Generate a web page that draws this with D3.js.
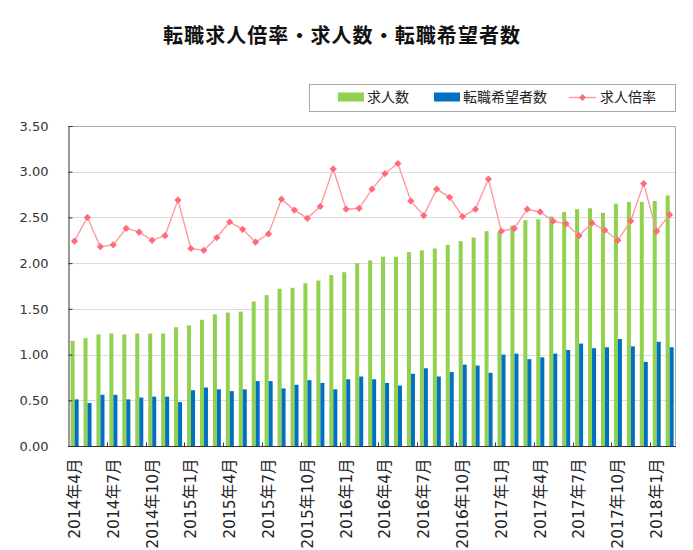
<!DOCTYPE html>
<html>
<head>
<meta charset="utf-8">
<script src="https://cdn.jsdelivr.net/npm/d3@7"></script>
<style>
  body { margin: 0; background: #fff; }
  svg { display: block; font-family: "DejaVu Sans", "Noto Sans CJK JP", sans-serif; }
</style>
</head>
<body>
<svg width="693" height="550"></svg>
<script>
const months = [
  "2014年4月", "2014年5月", "2014年6月", "2014年7月", "2014年8月", "2014年9月",
  "2014年10月", "2014年11月", "2014年12月", "2015年1月", "2015年2月", "2015年3月",
  "2015年4月", "2015年5月", "2015年6月", "2015年7月", "2015年8月", "2015年9月",
  "2015年10月", "2015年11月", "2015年12月", "2016年1月", "2016年2月", "2016年3月",
  "2016年4月", "2016年5月", "2016年6月", "2016年7月", "2016年8月", "2016年9月",
  "2016年10月", "2016年11月", "2016年12月", "2017年1月", "2017年2月", "2017年3月",
  "2017年4月", "2017年5月", "2017年6月", "2017年7月", "2017年8月", "2017年9月",
  "2017年10月", "2017年11月", "2017年12月", "2018年1月", "2018年2月"
];

// 求人数
const jobOffers = [
  1.15, 1.18, 1.22, 1.23, 1.22, 1.23, 1.23, 1.23, 1.30, 1.32, 1.38, 1.44,
  1.46, 1.47, 1.58, 1.65, 1.72, 1.73, 1.78, 1.81, 1.87, 1.90, 2.00, 2.03,
  2.07, 2.07, 2.12, 2.14, 2.16, 2.20, 2.24, 2.28, 2.35, 2.34, 2.41, 2.47,
  2.48, 2.51, 2.56, 2.59, 2.60, 2.55, 2.65, 2.67, 2.67, 2.68, 2.74
];

// 転職希望者数
const jobSeekers = [
  0.51, 0.47, 0.56, 0.56, 0.51, 0.53, 0.54, 0.54, 0.48, 0.61, 0.64, 0.62,
  0.60, 0.62, 0.71, 0.71, 0.63, 0.67, 0.72, 0.69, 0.62, 0.73, 0.76, 0.73,
  0.69, 0.66, 0.79, 0.85, 0.76, 0.81, 0.89, 0.88, 0.80, 1.00, 1.01, 0.95,
  0.97, 1.01, 1.05, 1.12, 1.07, 1.08, 1.17, 1.09, 0.92, 1.14, 1.08
];

// 求人倍率
const offerRatio = [
  2.24, 2.50, 2.18, 2.20, 2.38, 2.34, 2.25, 2.30, 2.69, 2.16, 2.14, 2.28,
  2.45, 2.37, 2.23, 2.32, 2.70, 2.58, 2.49, 2.62, 3.03, 2.59, 2.60, 2.81,
  2.98, 3.09, 2.68, 2.52, 2.81, 2.72, 2.51, 2.59, 2.92, 2.35, 2.38, 2.59,
  2.56, 2.46, 2.43, 2.30, 2.44, 2.36, 2.25, 2.46, 2.87, 2.35, 2.53
];

const yTicks = [0, 0.5, 1, 1.5, 2, 2.5, 3, 3.5];

const seriesNames = ["求人数", "転職希望者数", "求人倍率"];
const colors = { green: "#92d050", blue: "#0070c0", line: "#ff9aa0", marker: "#ff6b78" };

const svg = d3.select("svg");
const plot = { left: 68, right: 676, top: 126, bottom: 446 };

const x = d3.scaleBand().domain(months).range([plot.left, plot.right]).padding(0);
const y = d3.scaleLinear().domain([0, 3.5]).range([plot.bottom, plot.top]);
const sub = d3.scaleBand().domain([0, 1])
  .range([x.bandwidth() * 0.2, x.bandwidth() * 0.82]).padding(0);

// タイトル
svg.append("text")
  .attr("x", 163).attr("y", 43)
  .attr("textLength", 357)
  .attr("lengthAdjust", "spacing")
  .style("font-family", "'Noto Sans CJK JP', sans-serif")
  .style("font-weight", "bold")
  .style("font-size", "20px")
  .attr("fill", "#111")
  .text("転職求人倍率・求人数・転職希望者数");

// グリッド線
svg.append("g")
  .selectAll("line")
  .data(yTicks.filter(d => d > 0 && d < 3.5))
  .join("line")
  .attr("x1", plot.left).attr("x2", plot.right)
  .attr("y1", d => Math.round(y(d)) + 0.5).attr("y2", d => Math.round(y(d)) + 0.5)
  .attr("stroke", "#dcdcdc");

// 外枠（上・右）
svg.append("path")
  .attr("d", `M${plot.left},${plot.top + 0.5}H${plot.right - 0.5}V${plot.bottom}`)
  .attr("fill", "none")
  .attr("stroke", "#a8a8a8");

// 棒グラフ
const groups = svg.append("g")
  .selectAll("g")
  .data(months)
  .join("g")
  .attr("transform", d => `translate(${x(d)},0)`);

groups.append("rect")
  .attr("x", sub(0))
  .attr("width", sub.bandwidth())
  .attr("y", (d, i) => y(jobOffers[i]))
  .attr("height", (d, i) => y(0) - y(jobOffers[i]))
  .attr("fill", colors.green);

groups.append("rect")
  .attr("x", sub(1))
  .attr("width", sub.bandwidth())
  .attr("y", (d, i) => y(jobSeekers[i]))
  .attr("height", (d, i) => y(0) - y(jobSeekers[i]))
  .attr("fill", colors.blue);

// 軸
const yAxis = d3.axisLeft(y)
  .tickValues(yTicks)
  .tickSize(-4)
  .tickPadding(20)
  .tickFormat(d3.format(".2f"));

svg.append("g")
  .attr("transform", `translate(${plot.left + 0.5},0)`)
  .call(yAxis)
  .call(g => g.select(".domain").attr("stroke", "#333"))
  .call(g => g.selectAll(".tick line").attr("stroke", "#333"))
  .call(g => g.selectAll(".tick text")
    .attr("fill", "#333")
    .style("font-size", "13px")
    .style("font-family", "'DejaVu Sans', sans-serif"));

const xAxis = svg.append("g")
  .attr("transform", `translate(0,${plot.bottom + 0.5})`);

xAxis.append("line")
  .attr("x1", plot.left).attr("x2", plot.right)
  .attr("stroke", "#333");

xAxis.selectAll(".tk")
  .data(months.filter((d, i) => i > 0 && i % 3 === 0))
  .join("line")
  .attr("class", "tk")
  .attr("x1", d => Math.round(x(d)) + 0.5).attr("x2", d => Math.round(x(d)) + 0.5)
  .attr("y1", 0).attr("y2", -4)
  .attr("stroke", "#333");

xAxis.selectAll(".lbl")
  .data(months.filter((d, i) => i % 3 === 0))
  .join("text")
  .attr("class", "lbl")
  .attr("transform", d => `translate(${x(d) + x.bandwidth() / 2 + 5.5},12) rotate(-90)`)
  .attr("text-anchor", "end")
  .attr("fill", "#222")
  .style("font-size", "15.5px")
  .text(d => d);

// 折れ線
const line = d3.line()
  .x((d, i) => x(months[i]) + x.bandwidth() / 2)
  .y(d => y(d));

svg.append("path")
  .datum(offerRatio)
  .attr("d", line)
  .attr("fill", "none")
  .attr("stroke", colors.line)
  .attr("stroke-width", 1.4);

svg.append("g")
  .selectAll("path")
  .data(offerRatio)
  .join("path")
  .attr("transform", (d, i) => `translate(${x(months[i]) + x.bandwidth() / 2},${y(d)}) rotate(45)`)
  .attr("d", d3.symbol(d3.symbolSquare, 26))
  .attr("fill", colors.marker);

// 凡例
const legend = svg.append("g");
legend.append("rect")
  .attr("x", 309.5).attr("y", 84.5)
  .attr("width", 366).attr("height", 27)
  .attr("fill", "#fff")
  .attr("stroke", "#a8a8a8");

const legendItems = [
  { name: seriesNames[0], x: 338, type: "bar", color: colors.green },
  { name: seriesNames[1], x: 434, type: "bar", color: colors.blue },
  { name: seriesNames[2], x: 569, type: "line" }
];

const li = legend.selectAll(".item")
  .data(legendItems)
  .join("g")
  .attr("class", "item")
  .attr("transform", d => `translate(${d.x},0)`);

li.filter(d => d.type === "bar")
  .append("rect")
  .attr("y", 92.5).attr("width", 26).attr("height", 9)
  .attr("fill", d => d.color);

const ll = li.filter(d => d.type === "line");
ll.append("line")
  .attr("x1", 0).attr("x2", 27)
  .attr("y1", 97.5).attr("y2", 97.5)
  .attr("stroke", colors.line)
  .attr("stroke-width", 1.4);
ll.append("path")
  .attr("transform", "translate(13.5,97.5) rotate(45)")
  .attr("d", d3.symbol(d3.symbolSquare, 26))
  .attr("fill", colors.marker);

li.append("text")
  .attr("x", d => d.type === "bar" ? 29 : 31)
  .attr("y", 102)
  .attr("fill", "#222")
  .style("font-family", "'Noto Sans CJK JP', sans-serif")
  .style("font-size", "14px")
  .text(d => d.name);
</script>
</body>
</html>
